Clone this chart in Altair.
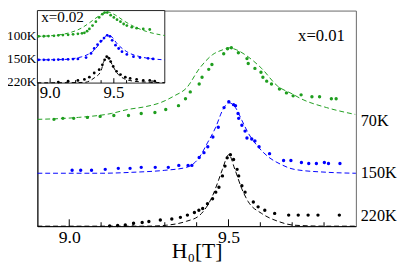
import altair as alt
import pandas as pd

SERIF = "Liberation Serif"
GREEN = "#1f9e1f"
BLUE = "#0000ff"
BLACK = "#000000"

# ---------------- main panel (x = 0.01) ----------------
g_dot_h = [8.952, 8.980, 9.014, 9.057, 9.097, 9.140, 9.186, 9.226, 9.269, 9.303, 9.343, 9.365, 9.380,
           9.408, 9.417, 9.438, 9.448, 9.485, 9.497, 9.509, 9.531, 9.558, 9.562, 9.583, 9.602, 9.608,
           9.620, 9.635, 9.660, 9.682, 9.703, 9.728, 9.762, 9.786, 9.823, 9.838]
g_dot_v = [109, 110, 110, 111, 112, 113, 113, 115, 116, 119, 123, 130, 137,
           145, 152, 160, 165, 176, 181, 182, 177, 171, 166, 161, 157, 152,
           148, 145, 140, 136, 133, 134, 132, 132, 130, 130]
g_fit_h = [8.900, 9.029, 9.132, 9.183, 9.240, 9.286, 9.330, 9.368, 9.409, 9.450, 9.482, 9.500,
           9.525, 9.552, 9.604, 9.654, 9.700, 9.728, 9.808, 9.898]
g_fit_v = [109, 111, 115, 119, 122, 126, 133, 141, 161, 175, 180, 182,
           180, 175, 161, 143, 135, 130, 121, 114]

b_dot_h = [9.009, 9.036, 9.070, 9.113, 9.154, 9.191, 9.226, 9.270, 9.311, 9.344, 9.373, 9.385,
           9.408, 9.423, 9.435, 9.451, 9.468, 9.486, 9.501, 9.516, 9.522, 9.530, 9.532, 9.542,
           9.552, 9.558, 9.573, 9.583, 9.596, 9.629, 9.673, 9.696, 9.729, 9.752, 9.776, 9.801,
           9.814, 9.850]
b_dot_v = [57, 57, 57, 58, 59, 59, 60, 60, 60, 62, 62, 62,
           70, 75, 81, 91, 101, 121, 127, 124, 123, 115, 110, 103,
           97, 90, 89, 87, 81, 74, 67, 67, 65, 64, 64, 65,
           64, 64]
b_fit_h = [8.900, 9.100, 9.200, 9.300, 9.368, 9.408, 9.434, 9.460, 9.481, 9.501, 9.522, 9.542,
           9.562, 9.593, 9.624, 9.665, 9.706, 9.809, 9.900]
b_fit_v = [54, 54, 55, 57, 60, 70, 85, 101, 118, 126, 121, 108,
           95, 81, 71, 63, 58, 55, 54]

k_dot_h = [9.127, 9.152, 9.176, 9.202, 9.229, 9.250, 9.286, 9.322, 9.349, 9.371, 9.393, 9.407,
           9.419, 9.434, 9.450, 9.460, 9.470, 9.481, 9.489, 9.496, 9.506, 9.516, 9.527, 9.532,
           9.542, 9.552, 9.578, 9.593, 9.614, 9.645, 9.689, 9.719, 9.750, 9.781, 9.848]
k_dot_v = [0.3, 0.7, 1.3, 3, 3.7, 4.7, 6.3, 7.3, 9, 11.3, 14, 16.3,
           18, 23, 28, 34.7, 39.7, 51.3, 61.3, 69.7, 73, 68, 58, 51.3,
           41.3, 34.7, 24.7, 19.7, 16.3, 13, 11.3, 11.3, 11.3, 11.3, 11.3]
k_fit_h = [8.900, 9.100, 9.245, 9.306, 9.368, 9.409, 9.430, 9.450, 9.470, 9.481, 9.501, 9.520,
           9.542, 9.562, 9.604, 9.655, 9.706, 9.808, 9.900]
k_fit_v = [0, 0, 0, 1, 5, 11, 19, 31, 48, 58, 73, 58,
           38, 25, 13, 5, 1, 0, 0]

main_labels = ["70K", "150K", "220K"]
main_label_v = [107, 54, 10]
main_ticks = [9.0, 9.1, 9.2, 9.3, 9.4, 9.5, 9.6, 9.7, 9.8]
main_major = [9.0, 9.5]

# ---------------- inset (x = 0.02) ----------------
ig_dot_h = [8.910, 8.950, 8.987, 9.030, 9.064, 9.100, 9.141, 9.180, 9.218, 9.250, 9.269, 9.290,
            9.308, 9.333, 9.359, 9.385, 9.410, 9.428, 9.448, 9.475, 9.500, 9.525, 9.552, 9.577,
            9.602, 9.641, 9.679, 9.731, 9.782]
ig_dot_v = [47.7, 47.8, 48, 48.3, 48.7, 49, 49.3, 49.8, 50.3, 50.8, 51.3, 53,
            55.3, 58.7, 62.7, 67, 70.3, 72, 72, 69.3, 67, 64.7, 62.7, 60.3,
            58.7, 57, 56, 55.3, 54.7]
ig_fit_h = [8.900, 9.038, 9.141, 9.244, 9.321, 9.385, 9.448, 9.513, 9.577, 9.654, 9.756, 9.900]
ig_fit_v = [47.7, 48.7, 51, 56, 62.7, 68.7, 72.7, 69.3, 63.7, 58, 52.7, 48.5]

ib_dot_h = [8.910, 8.950, 8.987, 9.030, 9.064, 9.100, 9.141, 9.180, 9.218, 9.282, 9.321, 9.346,
            9.372, 9.398, 9.423, 9.448, 9.469, 9.487, 9.513, 9.538, 9.564, 9.602, 9.654, 9.705,
            9.769, 9.808]
ib_dot_v = [23.7, 23.7, 23.7, 23.8, 24, 24.1, 24.3, 24.5, 24.7, 26, 30.3, 35.3,
            39.3, 42.7, 46, 48.7, 47.7, 43.7, 38.7, 35.3, 32, 29.3, 27, 26,
            25.3, 24.7]
ib_fit_h = [8.900, 9.090, 9.244, 9.346, 9.410, 9.454, 9.485, 9.525, 9.602, 9.705, 9.900]
ib_fit_v = [23.7, 24, 26.7, 33.7, 43.7, 49.3, 47, 40.3, 32, 27, 23.7]

ik_dot_h = [9.064, 9.141, 9.218, 9.269, 9.308, 9.346, 9.385, 9.410, 9.428, 9.444, 9.462, 9.475,
            9.495, 9.521, 9.552, 9.590, 9.628, 9.679, 9.731, 9.782, 9.821]
ik_dot_v = [1, 2, 2.7, 3.7, 6, 10.3, 13.7, 18.7, 23.7, 27, 25.3, 22,
            17, 12, 8.7, 6, 4.7, 3.7, 2.7, 2.7, 2]
ik_fit_h = [8.900, 9.269, 9.346, 9.398, 9.421, 9.454, 9.487, 9.525, 9.577, 9.654, 9.756, 9.900]
ik_fit_v = [0.3, 0.7, 5.3, 12, 22, 27, 18.7, 10.3, 4.7, 2, 1, 0.5]

inset_labels = ["100K", "150K", "220K"]
inset_label_v = [48, 24, 1]
inset_ticks = [9.0, 9.2, 9.4, 9.5, 9.6, 9.8]
inset_major = [9.0, 9.5]
inset_ticklabels = [9.0, 9.5]


def series(hs, vs, color, name):
    return pd.DataFrame({"H": hs, "I": vs, "c": color, "s": name})


m_dots = pd.concat([series(g_dot_h, g_dot_v, GREEN, "g"), series(b_dot_h, b_dot_v, BLUE, "b"),
                    series(k_dot_h, k_dot_v, BLACK, "k")])
m_fits = pd.concat([series(g_fit_h, g_fit_v, GREEN, "g"), series(b_fit_h, b_fit_v, BLUE, "b"),
                    series(k_fit_h, k_fit_v, BLACK, "k")])
i_dots = pd.concat([series(ig_dot_h, ig_dot_v, GREEN, "g"), series(ib_dot_h, ib_dot_v, BLUE, "b"),
                    series(ik_dot_h, ik_dot_v, BLACK, "k")])
i_fits = pd.concat([series(ig_fit_h, ig_fit_v, GREEN, "g"), series(ib_fit_h, ib_fit_v, BLUE, "b"),
                    series(ik_fit_h, ik_fit_v, BLACK, "k")])

m_tick_df = pd.DataFrame({"H": main_ticks, "I": 0,
                          "I2": [7 if t in main_major else 4 for t in main_ticks]})
i_tick_df = pd.DataFrame({"H": inset_ticks, "I": 0,
                          "I2": [5 if t in inset_major else 3 for t in inset_ticks]})
m_lab_df = pd.DataFrame({"H": 9.9, "I": main_label_v, "t": main_labels})
i_lab_df = pd.DataFrame({"H": 8.9, "I": inset_label_v, "t": inset_labels})
i_tl_df = pd.DataFrame({"H": inset_ticklabels, "I": -15, "t": ["9.0", "9.5"]})
m_note = pd.DataFrame({"H": [9.792], "I": [194], "t": ["x=0.01"]})
i_note = pd.DataFrame({"H": [8.93], "I": [67], "t": ["x=0.02"]})
frame = pd.DataFrame({"H": [8.9], "H2": [9.9], "I": [0], "I2": [74]})

X_MAIN = alt.X("H:Q", scale=alt.Scale(domain=[8.9, 9.9], nice=False, zero=False),
               axis=alt.Axis(values=[9.0, 9.5], format=".1f", ticks=False, grid=False,
                             labelFont=SERIF, labelFontSize=18, labelColor="black", labelPadding=3,
                             domainColor="black", title="H₀[T]", titleFont=SERIF, titleFontSize=22,
                             titleFontWeight="normal", titleColor="black", titleY=32,
                             titleBaseline="alphabetic"))
Y_MAIN = alt.Y("I:Q", scale=alt.Scale(domain=[0, 220], nice=False, zero=False),
               axis=alt.Axis(labels=False, ticks=False, grid=False, title="", domainColor="black"))
COL = alt.Color("c:N", scale=None)

main = alt.layer(
    alt.Chart(m_fits).mark_line(strokeDash=[5, 3], strokeWidth=1, interpolate="monotone").encode(
        x=X_MAIN, y=Y_MAIN, color=COL, detail="s:N"),
    alt.Chart(m_dots).mark_circle(size=12, opacity=1).encode(x=X_MAIN, y=Y_MAIN, color=COL),
    alt.Chart(m_tick_df).mark_rule(color="black", strokeWidth=1).encode(x=X_MAIN, y=Y_MAIN, y2="I2"),
    alt.Chart(m_lab_df).mark_text(align="left", baseline="middle", dx=5, font=SERIF, fontSize=16.5,
                                  color="black").encode(x=X_MAIN, y=Y_MAIN, text="t:N"),
    alt.Chart(m_note).mark_text(align="center", baseline="middle", font=SERIF, fontSize=17,
                                color="black").encode(x=X_MAIN, y=Y_MAIN, text="t:N"),
)

X_IN = alt.X("H:Q", scale=alt.Scale(domain=[8.9, 9.9], range=[0, 130], nice=False, zero=False), axis=None)
Y_IN = alt.Y("I:Q", scale=alt.Scale(domain=[0, 74], range=[74, 0], nice=False, zero=False), axis=None)

inset = alt.layer(
    alt.Chart(frame).mark_rect(fill="white", stroke="#222", strokeWidth=1).encode(
        x=X_IN, x2="H2", y=Y_IN, y2="I2"),
    alt.Chart(i_fits).mark_line(strokeDash=[4, 3], strokeWidth=1, interpolate="monotone").encode(
        x=X_IN, y=Y_IN, color=COL, detail="s:N"),
    alt.Chart(i_dots).mark_circle(size=8, opacity=1).encode(x=X_IN, y=Y_IN, color=COL),
    alt.Chart(i_tick_df).mark_rule(color="black", strokeWidth=1).encode(x=X_IN, y=Y_IN, y2="I2"),
    alt.Chart(i_lab_df).mark_text(align="right", baseline="middle", dx=-1, font=SERIF, fontSize=13.5,
                                  color="black").encode(x=X_IN, y=Y_IN, text="t:N"),
    alt.Chart(i_tl_df).mark_text(align="center", baseline="alphabetic", font=SERIF, fontSize=17,
                                 color="black").encode(x=X_IN, y=Y_IN, text="t:N"),
    alt.Chart(i_note).mark_text(align="left", baseline="middle", font=SERIF, fontSize=15.5,
                                color="black").encode(x=X_IN, y=Y_IN, text="t:N"),
)

chart = alt.layer(main, inset).resolve_scale(x="independent", y="independent").properties(
    width=325, height=220,
    padding={"left": 30, "top": 0, "right": 44, "bottom": 37},
    autosize=alt.AutoSizeParams(type="none"),
    background="white",
).configure_view(stroke="#666", strokeWidth=1)

chart.save("out.html", embed_options={"renderer": "svg", "actions": False})
